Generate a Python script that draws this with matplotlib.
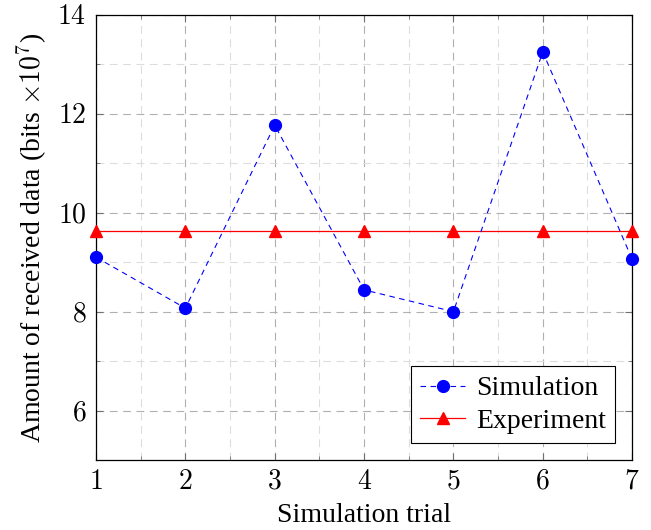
import matplotlib
matplotlib.use("Agg")
import matplotlib.pyplot as plt
from matplotlib.ticker import MultipleLocator, FixedLocator

plt.rcParams['font.family'] = ['Liberation Serif', 'DejaVu Serif']
plt.rcParams['mathtext.fontset'] = 'cm'

trials = [1, 2, 3, 4, 5, 6, 7]
simulation = [9.10, 8.07, 11.77, 8.44, 8.00, 13.25, 9.06]
experiment = [9.63, 9.63, 9.63, 9.63, 9.63, 9.63, 9.63]
xticks = [1, 2, 3, 4, 5, 6, 7]
yticks = [6, 8, 10, 12, 14]

fig = plt.figure(figsize=(6.51, 5.30), dpi=100)
ax = fig.add_axes([0.1475, 0.132, 0.8235, 0.840])

ax.plot(trials, simulation, color='blue', linestyle=(0, (5, 4)), linewidth=0.8,
        marker='o', markersize=8.5, label='Simulation', zorder=5, clip_on=False)
ax.plot(trials, experiment, color='red', linestyle='-', linewidth=0.9,
        marker='^', markersize=8, label='Experiment', zorder=4, clip_on=False)

ax.set_xlim(1, 7)
ax.set_ylim(5, 14)
ax.xaxis.set_major_locator(FixedLocator(xticks))
ax.yaxis.set_major_locator(FixedLocator(yticks))
ax.xaxis.set_minor_locator(MultipleLocator(0.5))
ax.yaxis.set_minor_locator(FixedLocator([5, 7, 9, 11, 13]))
ax.set_xticklabels([f'${v}$' for v in xticks], fontsize=20)
ax.set_yticklabels([f'${v}$' for v in yticks], fontsize=20)

ax.grid(which='major', color='#b0b0b0', linestyle=(0, (7, 5)), linewidth=0.8)
ax.grid(which='minor', color='#dddddd', linestyle=(0, (7, 5)), linewidth=0.8)
ax.set_axisbelow(True)

ax.tick_params(which='both', direction='in', top=True, right=True, color='#707070')
ax.tick_params(which='major', length=5, width=0.8, pad=7)
ax.tick_params(which='minor', length=3, width=0.6)
for s in ax.spines.values():
    s.set_linewidth(0.9)

ax.set_xlabel('Simulation trial', fontsize=20, labelpad=6)
ax.set_ylabel(r'Amount of received data (bits $\times 10^7$)', fontsize=20, labelpad=6)

leg = ax.legend(loc='lower right', fontsize=20, fancybox=False, framealpha=1,
                edgecolor='black', borderpad=0.35, handlelength=1.6,
                handletextpad=0.4, labelspacing=0.25, borderaxespad=0.6)
leg.get_frame().set_linewidth(0.8)

fig.savefig('out.png', dpi=100)
